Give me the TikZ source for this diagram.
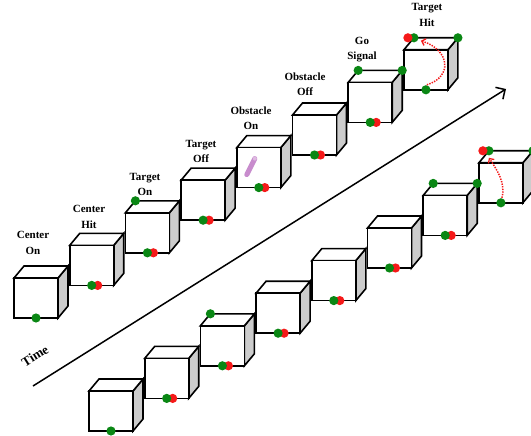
\documentclass[tikz,border=0pt]{standalone}
\usepackage{fontspec}
\setmainfont{Liberation Serif}
\usetikzlibrary{arrows.meta}

\definecolor{dotgreen}{RGB}{10,135,20}
\definecolor{dotred}{RGB}{245,25,25}
\definecolor{sidegray}{RGB}{204,204,204}
\definecolor{obstacle}{RGB}{200,140,205}

\tikzset{
  cubeedge/.style={line width=1.6pt},
  % cube drawn from the top-left corner of its front face
  trialcube/.pic={
    \filldraw[cubeedge,fill=sidegray] (44,0) -- (54,-12) -- (54,28) -- (44,40) -- cycle;
    \filldraw[cubeedge,fill=white] (0,0) -- (10,-12) -- (54,-12) -- (44,0) -- cycle;
    \filldraw[cubeedge,fill=white] (0,0) rectangle (44,40);
    \coordinate (-bot) at (22,40);
    \coordinate (-btl) at (10,-12);
    \coordinate (-btr) at (54,-12);
    \coordinate (-mid) at (22,20);
  },
  % anchored at the baseline of the last line
  steplabel/.style={font=\bfseries\fontsize{11}{16}\selectfont, align=center, anchor=base, inner sep=0pt},
  hitarrow/.style={dotred, line width=1.5pt, dash pattern=on 1.4pt off 1.2pt,
    -{Straight Barb[length=3.5pt,width=7pt,line width=1.3pt]}},
  timearrow/.style={line width=1.5pt, -{Straight Barb[length=7pt,width=14pt,line width=1.5pt]}}
}

\newcommand\greendot[1]{\fill[dotgreen] (#1) circle[radius=4.6pt];}
\newcommand\pairdot[1]{\fill[dotred] ([xshift=6pt]#1) circle[radius=4.6pt];
  \fill[dotgreen] (#1) circle[radius=4.6pt];}
\newcommand\targetdot[1]{\fill[dotgreen] (#1) circle[radius=4.6pt];
  \fill[dotred] ([xshift=-6pt]#1) circle[radius=4.6pt];}

\begin{document}
\begin{tikzpicture}[x=1pt,y=-1pt]
\useasboundingbox (0,0) rectangle (531,436);
\clip (0,0) rectangle (531,436);

% time axis
\coordinate (t0) at (33,386);
\coordinate (t1) at (506,89);
\draw[timearrow] (t0) -- (t1);
\node[font=\bfseries\fontsize{13}{15}\selectfont, rotate=32, inner sep=0pt] (time) at (35,356) {Time};

% upper row: trial with obstacle
\foreach \k in {0,...,7}
  \pic (a\k) at ({14+55.7*\k},{278-32.6*\k}) {trialcube};
% lower row: trial without obstacle
\foreach \k in {0,...,7}
  \pic (b\k) at ({89+55.7*\k},{391-32.6*\k}) {trialcube};

% obstacle bar
\coordinate (obA) at ([shift={(-4,-9)}]a4-mid);
\coordinate (obB) at ([shift={(-12,7)}]a4-mid);
\draw[obstacle, line width=5pt, line cap=round] (obA) -- (obB);
\fill[obstacle!60!white] (obA) circle[radius=2pt];

% markers, upper row
\greendot{a0-bot}
\foreach \k in {1,...,6} {\pairdot{a\k-bot}}
\greendot{a2-btl}
\greendot{a6-btl}
\greendot{a6-btr}
\greendot{a7-bot}
\greendot{a7-btr}
\targetdot{a7-btl}

% markers, lower row
\greendot{b0-bot}
\foreach \k in {1,...,6} {\pairdot{b\k-bot}}
\greendot{b2-btl}
\greendot{b6-btl}
\greendot{b6-btr}
\greendot{b7-bot}
\greendot{b7-btr}
\targetdot{b7-btl}

% reach movements
\coordinate (aEnd) at ([shift={(7,3)}]a7-btl);
\draw[hitarrow] ([shift={(1,-5)}]a7-bot) .. controls +(26,-8) and +(29,9) .. (aEnd);
\coordinate (bEnd) at ([shift={(0,7)}]b7-btl);
\draw[hitarrow] ([shift={(1,-5)}]b7-bot) .. controls +(4,-15) and +(8,12) .. (bEnd);

% event labels
\node[steplabel] (l0) at (33,254) {Center\\On};
\node[steplabel] (l1) at (89,228) {Center\\Hit};
\node[steplabel] (l2) at (145,196) {Target\\On};
\node[steplabel] (l3) at (201,163) {Target\\Off};
\node[steplabel] (l4) at (251,130) {Obstacle\\On};
\node[steplabel] (l5) at (305,96) {Obstacle\\Off};
\node[steplabel] (l6) at (362,60) {Go\\Signal};
\node[steplabel] (l7) at (427,27) {Target\\Hit};
\end{tikzpicture}
\end{document}
